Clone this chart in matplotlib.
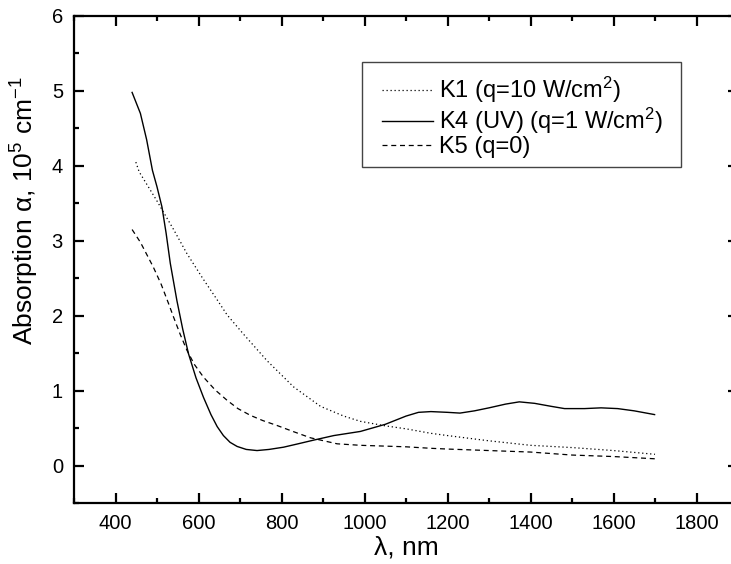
import matplotlib
matplotlib.use("Agg")
import matplotlib.pyplot as plt
from matplotlib.patches import Rectangle
from matplotlib.ticker import MultipleLocator

plt.rcParams['font.family'] = ['Liberation Sans', 'DejaVu Sans']
plt.rcParams['mathtext.fontset'] = 'custom'
plt.rcParams['mathtext.rm'] = 'Liberation Sans'
plt.rcParams['mathtext.it'] = 'Liberation Sans'
plt.rcParams['mathtext.default'] = 'regular'

# K1 (q=10 W/cm2), dotted
k1_x = [449, 457, 499, 540, 572, 610, 644, 669, 709, 765, 829, 894, 950, 990, 1050,
        1100, 1160, 1200, 1300, 1400, 1500, 1600, 1700]
k1_y = [4.05, 3.92, 3.54, 3.15, 2.83, 2.50, 2.22, 2.01, 1.75, 1.40, 1.05, 0.79, 0.66, 0.59, 0.53,
        0.49, 0.43, 0.40, 0.33, 0.27, 0.24, 0.20, 0.15]

# K4 (UV) (q=1 W/cm2), solid
k4_x = [440, 460, 475, 489, 500, 512, 522, 532, 548, 562, 576, 594, 612, 630, 645, 660, 676, 693,
        715, 741, 770, 805, 840, 878, 926, 990, 1050, 1100, 1130, 1160, 1200, 1230, 1265,
        1300, 1340, 1373, 1410, 1450, 1482, 1530, 1570, 1610, 1650, 1699]
k4_y = [4.98, 4.70, 4.35, 3.94, 3.72, 3.45, 3.10, 2.70, 2.20, 1.82, 1.49, 1.17, 0.91, 0.68, 0.52, 0.40, 0.31, 0.255,
        0.215, 0.20, 0.215, 0.245, 0.29, 0.34, 0.40, 0.455, 0.55, 0.66, 0.71, 0.72, 0.71, 0.70, 0.73,
        0.77, 0.82, 0.85, 0.83, 0.79, 0.76, 0.76, 0.77, 0.76, 0.73, 0.68]

# K5 (q=0), dashed
k5_x = [440, 460, 491, 510, 528, 540, 556, 572, 590, 612, 640, 669, 695, 725, 755, 789, 830, 870,
        934, 990, 1100, 1160, 1200, 1300, 1400, 1500, 1600, 1700]
k5_y = [3.15, 2.98, 2.65, 2.42, 2.16, 1.98, 1.75, 1.54, 1.35, 1.18, 1.01, 0.87, 0.76, 0.67, 0.60, 0.535, 0.45, 0.37,
        0.29, 0.27, 0.25, 0.23, 0.22, 0.20, 0.18, 0.14, 0.12, 0.09]

labels = ['K1 (q=10 W/cm$^2$)', 'K4 (UV) (q=1 W/cm$^2$)', 'K5 (q=0)']

fig = plt.figure(figsize=(7.31, 5.64), dpi=100)
ax = fig.add_axes([74 / 731, 1 - 503 / 564, 664 / 731, 487 / 564])

ax.plot(k1_x, k1_y, color='black', lw=0.9, linestyle=(0, (1, 2.2)), label=labels[0])
ax.plot(k4_x, k4_y, color='black', lw=1.0, linestyle='-', label=labels[1])
ax.plot(k5_x, k5_y, color='black', lw=0.9, linestyle=(0, (4, 3)), label=labels[2])

ax.set_xlim(300, 1900)
ax.set_ylim(-0.5, 6)
ax.xaxis.set_major_locator(MultipleLocator(200))
ax.xaxis.set_minor_locator(MultipleLocator(100))
ax.yaxis.set_major_locator(MultipleLocator(1))
ax.yaxis.set_minor_locator(MultipleLocator(0.5))

for s in ax.spines.values():
    s.set_linewidth(1.6)
ax.tick_params(which='both', direction='in', top=True, right=True, width=1.6, labelsize=14.5)
ax.tick_params(which='major', length=7, pad=8)
ax.tick_params(which='minor', length=3.5)

ax.set_xlabel('λ, nm', fontsize=19, labelpad=2)
ax.set_ylabel('Absorption α, 10$^5$ cm$^{-1}$', fontsize=19)
ax.yaxis.set_label_coords(-0.05, 0.6)

# legend without its own frame; box drawn separately to match the reference padding
ax.legend(loc='upper left', bbox_to_anchor=(382 / 731, 1 - 75 / 564),
          bbox_transform=fig.transFigure, borderaxespad=0, borderpad=0, fontsize=17,
          frameon=False, handlelength=2.15, handletextpad=0.25, labelspacing=0.02)
fig.add_artist(Rectangle((362 / 731, 1 - 167 / 564), (681 - 362) / 731, (167 - 62) / 564,
                         transform=fig.transFigure, fill=False, edgecolor='#444444', lw=1.0))

fig.savefig('out.png', dpi=100)
